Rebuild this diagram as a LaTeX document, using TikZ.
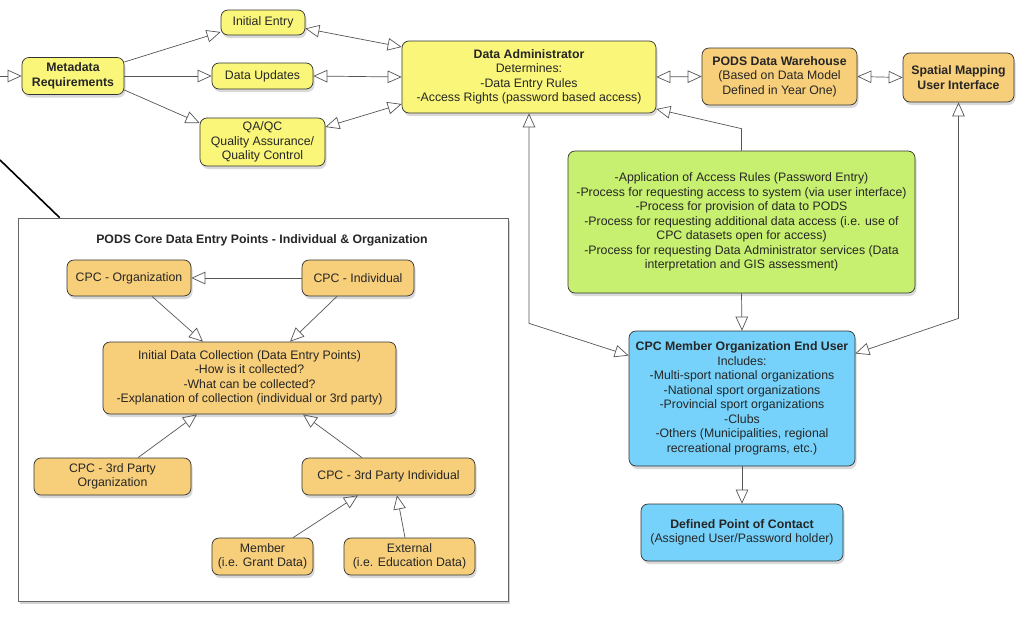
\documentclass[tikz,border=0pt]{standalone}
\usepackage{fontspec}
\setmainfont{Liberation Sans}
\usetikzlibrary{arrows.meta,shadows}
\definecolor{boxyellow}{RGB}{250,246,122}
\definecolor{boxorange}{RGB}{247,206,122}
\definecolor{boxgreen}{RGB}{200,240,112}
\definecolor{boxblue}{RGB}{118,210,250}
\definecolor{edgegray}{RGB}{85,85,85}
\begin{document}
\begin{tikzpicture}[x=1pt,y=1pt]
		\tikzstyle{every node}+=[inner sep=0pt, font=\fontsize{12.3}{14.5}\selectfont, text=black!85]
		\tikzstyle{box}=[draw=black!80, line width=0.7pt, rounded corners=7pt, align=center, drop shadow={shadow xshift=1.5pt,shadow yshift=-3pt,opacity=0.3}]
		\tikzstyle{ybox}=[box, fill=boxyellow]
		\tikzstyle{obox}=[box, fill=boxorange]
		\tikzstyle{gbox}=[box, fill=boxgreen]
		\tikzstyle{bbox}=[box, fill=boxblue]
		\tikzstyle{link}=[draw=edgegray, line width=0.7pt, -{Triangle[open,length=14pt,width=12.5pt]}]
		\tikzstyle{both}=[link, {Triangle[open,length=14pt,width=12.5pt]}-{Triangle[open,length=14pt,width=12.5pt]}]
		\useasboundingbox (0,0) rectangle (1024,-624);
		% core data entry panel
		\node [draw=black!60, line width=0.7pt, fill=white, minimum width=490, minimum height=383, drop shadow={shadow xshift=2pt,shadow yshift=-3pt,opacity=0.35}] (panel) at (263,-409.5) {};
		\node [font=\fontsize{12.3}{14.5}\selectfont\bfseries] (paneltitle) at (262,-240) {PODS Core Data Entry Points - Individual \& Organization};
		\coordinate (callout) at (0,-160);
		\draw [black, line width=1.6pt] (callout) -- ([xshift=42]panel.north west);
		% top row
		\coordinate (feed) at (0,-76);
		\node [ybox, minimum width=102, minimum height=37, font=\fontsize{12.3}{14.5}\selectfont\bfseries] (meta) at (73,-76) {Metadata\\Requirements};
		\node [ybox, minimum width=84, minimum height=25] (entry) at (263,-22.5) {Initial Entry};
		\node [ybox, minimum width=101, minimum height=26] (updates) at (262.5,-76) {Data Updates};
		\node [ybox, minimum width=125, minimum height=48] (qaqc) at (262.5,-142) {QA/QC\\Quality Assurance/\\Quality Control};
		\node [ybox, minimum width=254, minimum height=72] (admin) at (529,-77) {\textbf{Data Administrator}\\Determines:\\-Data Entry Rules\\-Access Rights (password based access)};
		\node [obox, minimum width=155, minimum height=57] (warehouse) at (779.5,-76.5) {\textbf{PODS Data Warehouse}\\(Based on Data Model\\Defined in Year One)};
		\node [obox, minimum width=111, minimum height=49, font=\fontsize{12.3}{14.5}\selectfont\bfseries] (spatial) at (958.5,-77.5) {Spatial Mapping\\User Interface};
		% right column
		\node [gbox, minimum width=347, minimum height=142] (rules) at (741.5,-222) {-Application of Access Rules (Password Entry)\\-Process for requesting access to system (via user interface)\\-Process for provision of data to PODS\\-Process for requesting additional data access (i.e. use of\\CPC datasets open for access)\\-Process for requesting Data Administrator services (Data\\interpretation and GIS assessment)};
		\node [bbox, minimum width=226, minimum height=135] (enduser) at (742,-398.5) {\textbf{CPC Member Organization End User}\\Includes:\\-Multi-sport national organizations\\-National sport organizations\\-Provincial sport organizations\\-Clubs\\-Others (Municipalities, regional\\recreational programs, etc.)};
		\node [bbox, minimum width=202, minimum height=57] (contact) at (742,-532.5) {\textbf{Defined Point of Contact}\\(Assigned User/Password holder)};
		% panel boxes
		\node [obox, minimum width=124, minimum height=36] (org) at (129,-278) {CPC - Organization};
		\node [obox, minimum width=112, minimum height=36] (indiv) at (358,-278) {CPC - Individual};
		\node [obox, minimum width=293, minimum height=72] (collect) at (249.5,-378) {Initial Data Collection (Data Entry Points)\\-How is it collected?\\-What can be collected?\\-Explanation of collection (individual or 3rd party)};
		\node [obox, minimum width=157, minimum height=37] (thirdorg) at (112.5,-476.5) {CPC - 3rd Party\\Organization};
		\node [obox, minimum width=173, minimum height=37] (thirdind) at (388.5,-476.5) {CPC - 3rd Party Individual};
		\node [obox, minimum width=101, minimum height=37] (member) at (262.5,-556.5) {Member\\(i.e. Grant Data)};
		\node [obox, minimum width=131, minimum height=37] (external) at (409.5,-556.5) {External\\(i.e. Education Data)};
		% connectors, top row
		\draw [link] (feed) -- (meta.west);
		\draw [link] ([yshift=14]meta.east) -- ([yshift=-9.5]entry.west);
		\draw [link] (meta.east) -- (updates.west);
		\draw [link] ([yshift=-14]meta.east) -- ([yshift=19]qaqc.west);
		\draw [both] ([yshift=-6]entry.east) -- ([yshift=30]admin.west);
		\draw [both] (updates.east) -- (admin.west);
		\draw [both] ([yshift=15]qaqc.east) -- ([yshift=-27]admin.west);
		\draw [both] (admin.east) -- (warehouse.west);
		\draw [both] (warehouse.east) -- (spatial.west);
		% connectors, right column
		\draw [link] (rules.north) -- ++(0,22) -- ([yshift=-32]admin.east);
		\draw [both] (admin.south) -- ++(0,-210) -- ([yshift=43]enduser.west);
		\draw [link] (rules.south) -- (enduser.north);
		\draw [both] (spatial.south) -- ++(0,-216) -- ([yshift=45]enduser.east);
		\draw [link] (enduser.south) -- (contact.north);
		% connectors, panel
		\draw [link] (indiv.west) -- (org.east);
		\draw [link] ([xshift=23]org.south) -- ([xshift=-46.5]collect.north);
		\draw [link] ([xshift=-21]indiv.south) -- ([xshift=40.5]collect.north);
		\draw [link] ([xshift=25.5]thirdorg.north) -- ([xshift=-52.5]collect.south);
		\draw [link] ([xshift=-26.5]thirdind.north) -- ([xshift=53.5]collect.south);
		\draw [link] ([xshift=30.5]member.north) -- ([xshift=-30.5]thirdind.south);
		\draw [link] ([xshift=-4.5]external.north) -- ([xshift=8.5]thirdind.south);
\end{tikzpicture}
\end{document}
